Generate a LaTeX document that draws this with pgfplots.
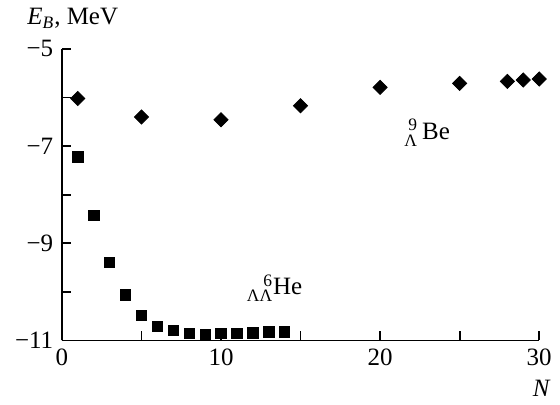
\documentclass[border=0pt]{standalone}
\usepackage{fontspec}
\setmainfont{Liberation Serif}
\usepackage{amsmath}
\usepackage{mathtools}
\usepackage{pgfplots}
\pgfplotsset{compat=1.18}
\begin{document}
\fontsize{12.5}{15}\selectfont
\begin{tikzpicture}
\begin{axis}[
    name=ax,
    scale only axis,
    width=239pt, height=146pt,
    axis lines=left,
    axis line style={-, line width=0.9pt},
    xmin=0, xmax=30, ymin=-11, ymax=-5,
    xtick={0,10,20,30}, minor xtick={5,15,25},
    xticklabels={0,10,20,30},
    ytick={-11,-9,-7,-5}, minor ytick={-10,-8,-6},
    yticklabels={−11,−9,−7,−5},
    tick align=inside,
    major tick length=4.5pt, minor tick length=4.5pt,
    every tick/.style={line width=0.9pt, black},
    clip=false,
]
    % Lambda-9 Be
    \addplot[only marks, mark=square*, mark size=2.5pt, mark options={rotate=45}] coordinates {
        (1,-6.02) (5,-6.40) (10,-6.46) (15,-6.17) (20,-5.79)
        (25,-5.71) (28,-5.67) (29,-5.64) (30,-5.62)
    };
    % Lambda-Lambda-6 He
    \addplot[only marks, mark=square*, mark size=2.6pt] coordinates {
        (1,-7.22) (2,-8.43) (3,-9.39) (4,-10.06) (5,-10.48) (6,-10.71)
        (7,-10.79) (8,-10.85) (9,-10.87) (10,-10.86) (11,-10.86)
        (12,-10.84) (13,-10.82) (14,-10.82)
    };
    \node[anchor=base west, inner sep=0pt] at (axis cs:21.5,-6.86)
        {$\prescript{\text{9}}{\text{Λ}}{}$\,Be};
    \node[anchor=base west, inner sep=0pt] at (axis cs:11.6,-10.06)
        {$\prescript{\text{6}}{\text{ΛΛ}}{}$He};
\end{axis}
\node[anchor=base west, inner sep=0pt] at ([shift={(-17.5pt,12pt)}]ax.north west)
    {\textit{E}\textsubscript{\textit{B}}, MeV};
\node[anchor=base east, inner sep=0pt] at ([shift={(6pt,-28pt)}]ax.south east)
    {\textit{N}};
\path[use as bounding box] ([shift={(-31pt,-32pt)}]ax.south west)
    rectangle ([shift={(249pt,170.5pt)}]ax.south west);
\end{tikzpicture}
\end{document}
